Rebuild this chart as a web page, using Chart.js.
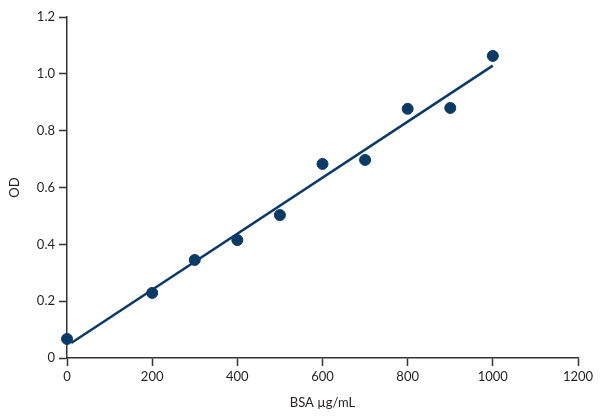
<!DOCTYPE html>
<html>
<head>
<meta charset="utf-8">
<script src="https://cdn.jsdelivr.net/npm/chart.js@4"></script>
<style>
  html, body { margin: 0; padding: 0; background: #fff; }
  #wrap { width: 600px; height: 419px; }
</style>
</head>
<body>
<div id="wrap"><canvas id="bsaChart" width="600" height="419"></canvas></div>
<script>
// Dados
const bsaConc = [0, 200, 300, 400, 500, 600, 700, 800, 900, 1000];
const odValues = [0.067, 0.229, 0.345, 0.415, 0.503, 0.683, 0.697, 0.877, 0.880, 1.063];
// Linha de tendência (extremos)
const trendX = [10, 1000];
const trendY = [0.053, 1.029];
const xTickLabels = ["0", "200", "400", "600", "800", "1000", "1200"];
const yTickLabels = ["0", "0.2", "0.4", "0.6", "0.8", "1.0", "1.2"];

const navy = "#0c3a66";
const axisColor = "#333333";
const textColor = "#231f20";
const font = { family: "Lato", size: 13 };

const ctx = document.getElementById("bsaChart").getContext("2d");
new Chart(ctx, {
  type: "scatter",
  data: {
    datasets: [
      {
        label: "Ajuste",
        type: "line",
        data: trendX.map((x, i) => ({ x: x, y: trendY[i] })),
        borderColor: navy,
        borderWidth: 2.5,
        pointRadius: 0,
        fill: false,
        order: 2
      },
      {
        label: "OD",
        data: bsaConc.map((x, i) => ({ x: x, y: odValues[i] })),
        backgroundColor: navy,
        borderColor: navy,
        pointRadius: 5.5,
        pointHoverRadius: 5.5,
        clip: false,
        order: 1
      }
    ]
  },
  options: {
    responsive: false,
    animation: false,
    layout: { padding: { top: 17, right: 22, left: 0, bottom: 0 } },
    plugins: {
      legend: { display: false },
      tooltip: { enabled: false }
    },
    scales: {
      x: {
        type: "linear",
        min: 0,
        max: 1200,
        afterBuildTicks: function (axis) {
          axis.ticks = xTickLabels.map(v => ({ value: Number(v) }));
        },
        afterFit: function (axis) { axis.height = 61; },
        border: { color: axisColor, width: 1.5 },
        grid: { drawOnChartArea: false, tickLength: 8, tickColor: axisColor, tickWidth: 1.5 },
        ticks: {
          color: textColor,
          font: font,
          padding: 3,
          maxRotation: 0,
          callback: function (value, index) { return xTickLabels[index]; }
        },
        title: {
          display: true,
          text: "BSA µg/mL",
          color: textColor,
          font: font,
          padding: { top: 0, bottom: 8 }
        }
      },
      y: {
        type: "linear",
        min: 0,
        max: 1.2,
        afterBuildTicks: function (axis) {
          axis.ticks = yTickLabels.map(v => ({ value: Number(v) }));
        },
        afterFit: function (axis) { axis.width = 67; },
        border: { color: axisColor, width: 1.5 },
        grid: { drawOnChartArea: false, tickLength: 8, tickColor: axisColor, tickWidth: 1.5 },
        ticks: {
          color: textColor,
          font: font,
          padding: 4,
          callback: function (value, index) { return yTickLabels[index]; }
        },
        title: {
          display: true,
          text: "OD",
          color: textColor,
          font: font,
          padding: { top: 7, bottom: 0 }
        }
      }
    }
  }
});
</script>
</body>
</html>
